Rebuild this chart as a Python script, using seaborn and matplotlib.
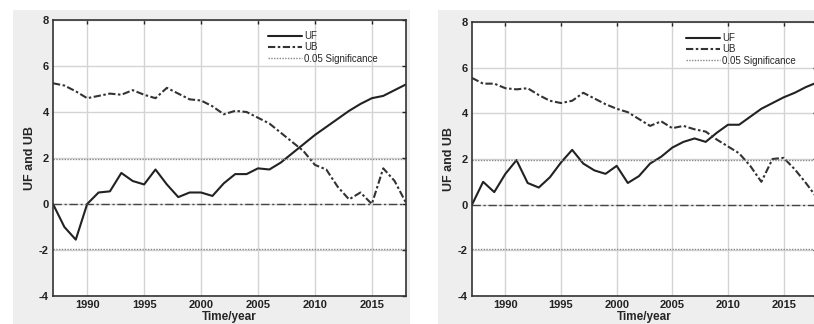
import numpy as np
import pandas as pd
import matplotlib
matplotlib.use("Agg")
import matplotlib.pyplot as plt
from matplotlib.patches import Rectangle
import seaborn as sns

years = list(range(1987, 2019))

uf_left = [0.0, -1.0, -1.55, 0.0, 0.5, 0.55, 1.35, 1.0, 0.85, 1.5, 0.85, 0.3, 0.5, 0.5,
           0.35, 0.9, 1.3, 1.3, 1.55, 1.5, 1.8, 2.2, 2.6, 3.0, 3.35, 3.7, 4.05, 4.35,
           4.6, 4.7, 4.95, 5.2]
ub_left = [5.25, 5.15, 4.9, 4.6, 4.7, 4.8, 4.75, 4.95, 4.75, 4.6, 5.05, 4.8, 4.55, 4.5,
           4.25, 3.9, 4.05, 4.0, 3.75, 3.5, 3.1, 2.7, 2.3, 1.7, 1.5, 0.75, 0.2, 0.5,
           0.0, 1.55, 1.0, 0.05]

uf_right = [0.0, 1.0, 0.55, 1.35, 1.95, 0.95, 0.75, 1.2, 1.85, 2.4, 1.8, 1.5, 1.35, 1.7,
            0.95, 1.25, 1.8, 2.1, 2.5, 2.75, 2.9, 2.75, 3.15, 3.5, 3.5, 3.85, 4.2, 4.45,
            4.7, 4.9, 5.15, 5.35]
ub_right = [5.55, 5.3, 5.3, 5.1, 5.05, 5.1, 4.8, 4.55, 4.45, 4.55, 4.9, 4.65, 4.4, 4.2,
            4.05, 3.75, 3.45, 3.65, 3.35, 3.45, 3.3, 3.2, 2.85, 2.55, 2.25, 1.7, 1.0, 2.0,
            2.05, 1.55, 0.95, 0.3]

xticks = [1990, 1995, 2000, 2005, 2010, 2015]
yticks = [-4, -2, 0, 2, 4, 6, 8]
sig_level = 1.96

sns.set_style("white")
plt.rcParams['font.family'] = ['Liberation Sans', 'DejaVu Sans']
plt.rcParams['axes.unicode_minus'] = False

fig = plt.figure(figsize=(8.14, 3.24), dpi=100)
fig.patch.set_facecolor('white')
bg = '#eeeeee'
fig.patches.append(Rectangle((13/814, 0), (410-13)/814, 1 - 10/324, transform=fig.transFigure,
                             facecolor=bg, edgecolor='none', zorder=-5))
fig.patches.append(Rectangle((438/814, 0), (814-438)/814, 1 - 10/324, transform=fig.transFigure,
                             facecolor=bg, edgecolor='none', zorder=-5))

ax1 = fig.add_axes([53/814, 1 - 296/324, 353/814, 276/324])
ax2 = fig.add_axes([472/814, 1 - 296/324, 345/814, 274/324])

panels = [(ax1, uf_left, ub_left, 0.59), (ax2, uf_right, ub_right, 0.60)]
for ax, uf, ub, legx in panels:
    ax.set_zorder(1)
    ax.set_facecolor('white')
    df = pd.DataFrame({'year': years, 'UF': uf, 'UB': ub})
    sns.lineplot(data=df, x='year', y='UF', ax=ax, color='#222222', lw=1.5, label='UF')
    sns.lineplot(data=df, x='year', y='UB', ax=ax, color='#333333', lw=1.5,
                 dashes=False, label='UB')
    ax.lines[-1].set_dashes((3.5, 1.2, 1.2, 1.2))
    ax.axhline(0, color='#444444', lw=1.0, dashes=(6, 2, 1.5, 2))
    ax.axhline(sig_level, color='#888888', lw=1.0, dashes=(1, 1), label='0.05 Significance')
    ax.axhline(-sig_level, color='#888888', lw=1.0, dashes=(1, 1))
    ax.set_xlim(1987, 2018)
    ax.set_ylim(-4, 8)
    ax.set_xticks(xticks)
    ax.set_yticks(yticks)
    ax.grid(True, color='#d4d4d4', lw=1.0)
    ax.set_axisbelow(True)
    ax.tick_params(direction='in', length=3, width=1, top=True, right=True,
                   labelsize=8, colors='#222222', pad=3)
    for lab in ax.get_xticklabels() + ax.get_yticklabels():
        lab.set_fontweight('bold')
    for sp in ax.spines.values():
        sp.set_color('#333333')
        sp.set_linewidth(1.2)
    ax.set_xlabel('Time/year', fontsize=8.5, fontweight='bold', labelpad=0.5)
    ax.set_ylabel('UF and UB', fontsize=9, fontweight='bold', labelpad=2)
    ax.legend(loc='upper left', bbox_to_anchor=(legx, 0.985), frameon=False,
              fontsize=7, handlelength=3.5, handletextpad=0.2, labelspacing=0.15,
              borderpad=0.2)

fig.savefig('out.png', dpi=100)
